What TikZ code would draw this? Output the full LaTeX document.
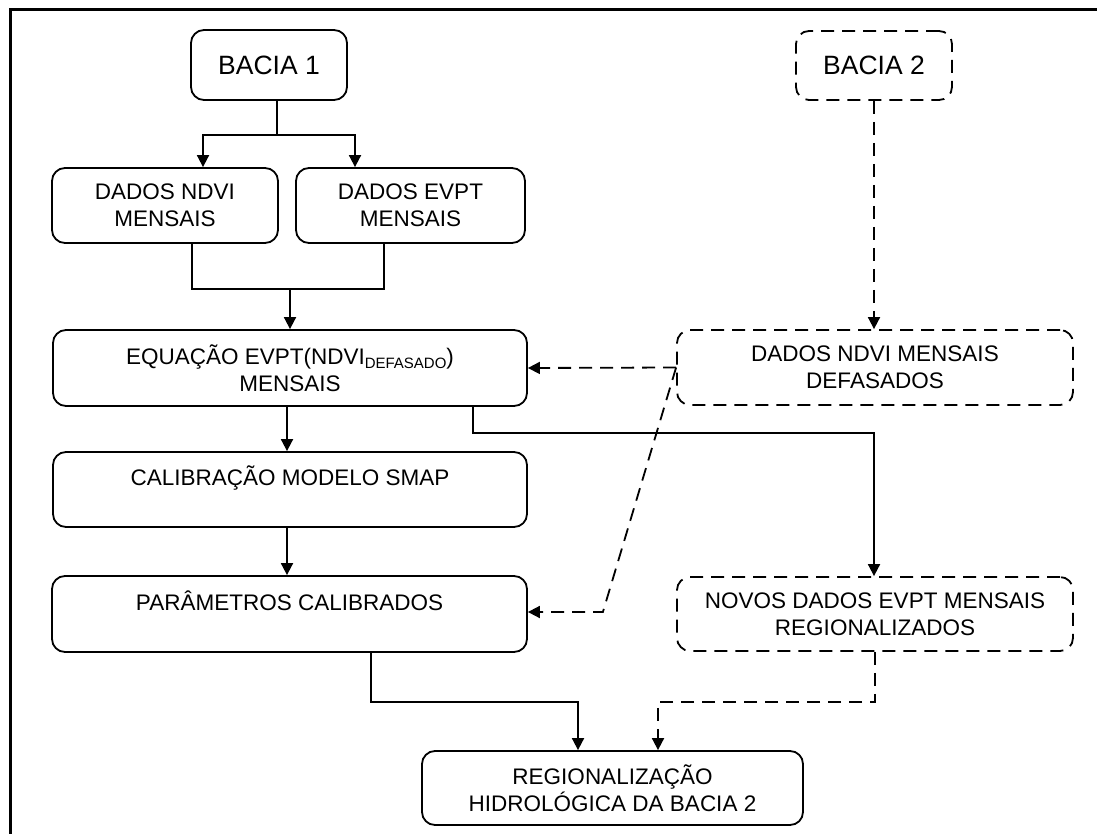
\documentclass[tikz,border=0pt]{standalone}
\usepackage{fontspec}
\setmainfont{Liberation Sans}
\usetikzlibrary{arrows.meta,calc}
\begin{document}
\begin{tikzpicture}[x=1pt,y=-1pt,
  box/.style={draw,line width=1.8pt,rounded corners=13pt,align=center,inner sep=0pt,
    font=\fontsize{22.5}{27}\selectfont},
  dbox/.style={box,dash pattern=on 13pt off 8pt},
  line/.style={line width=1.8pt},
  arr/.style={line,-{Triangle[length=12pt,width=12pt]}},
  darr/.style={arr,dash pattern=on 13pt off 8pt},
  dline/.style={line,dash pattern=on 13pt off 8pt}]
\useasboundingbox (0,0) rectangle (1097,834);
\draw[line width=3pt] (1097,10) -- (10,10) -- (10,834);

\node[box,minimum width=156pt,minimum height=70pt,font=\fontsize{26.5}{30}\selectfont] (b1) at (269,65) {BACIA 1};
\node[dbox,minimum width=156pt,minimum height=69pt,font=\fontsize{26.5}{30}\selectfont] (b2) at (874,65.5) {BACIA 2};
\node[box,minimum width=226pt,minimum height=75pt] (ndvi) at (165,205.5) {DADOS NDVI\\MENSAIS};
\node[box,minimum width=229pt,minimum height=75pt] (evpt) at (410.5,205.5) {DADOS EVPT\\MENSAIS};
\node[box,minimum width=474pt,minimum height=76pt] (eq) at (290,368) {EQUAÇÃO EVPT(NDVI\raisebox{-0.35ex}{\fontsize{15}{15}\selectfont DEFASADO})\\MENSAIS};
\node[box,minimum width=474pt,minimum height=75pt] (cal) at (290,489.5) {CALIBRAÇÃO MODELO SMAP\\~};
\node[box,minimum width=475pt,minimum height=76pt] (par) at (289.5,614) {PARÂMETROS CALIBRADOS\\~};
\node[dbox,minimum width=396pt,minimum height=75pt] (def) at (875,367.5) {DADOS NDVI MENSAIS\\DEFASADOS};
\node[dbox,minimum width=396pt,minimum height=74pt] (nov) at (875,614) {NOVOS DADOS EVPT MENSAIS\\REGIONALIZADOS};
\node[box,minimum width=381pt,minimum height=74pt] (reg) at (612.5,788) {REGIONALIZAÇÃO\\HIDROLÓGICA DA BACIA 2};

% BACIA 1 fork
\draw[arr] ([xshift=8pt]b1.south) -- ++(0,34) -| ([xshift=38pt]ndvi.north);
\draw[arr] ([xshift=8pt]b1.south) -- ++(0,34) -| ([xshift=-55.5pt]evpt.north);
% join into equation
\draw[line] ([xshift=27pt]ndvi.south) -- ++(0,45) -| ([xshift=-26.5pt]evpt.south);
\draw[arr] (eq.north |- 0,288) -- (eq.north);
% equation -> calibration -> parameters
\draw[arr] ([xshift=-3pt]eq.south) -- ([xshift=-3pt]cal.north);
\draw[arr] ([xshift=-3pt]cal.south) -- ([xshift=-2.5pt]par.north);
% equation -> novos
\draw[arr] ([xshift=183pt]eq.south) -- ++(0,26) -| ([xshift=-1pt]nov.north);
% BACIA 2 -> defasados
\draw[darr] (b2.south) -- (b2.south |- def.north);
% defasados -> equation and parameters
\draw[darr] (def.west) -- (eq.east);
\draw[darr] (def.west) -- ([xshift=75pt,yshift=2pt]par.east) -- ([yshift=2pt]par.east);
% to regionalizacao
\draw[arr] ([xshift=81.5pt]par.south) -- ++(0,49) -| ([xshift=-34.5pt]reg.north);
\draw[darr] (nov.south) -- ++(0,50) -| ([xshift=45.5pt]reg.north);
\end{tikzpicture}
\end{document}
